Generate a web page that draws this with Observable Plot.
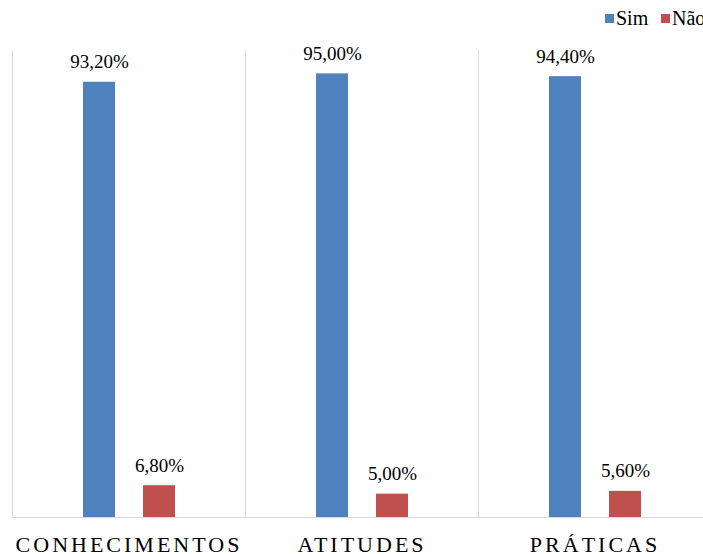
<!DOCTYPE html>
<html>
<head>
<meta charset="utf-8">
<script src="https://cdn.jsdelivr.net/npm/d3@7"></script>
<script src="https://cdn.jsdelivr.net/npm/@observablehq/plot@0.6"></script>
<style>
  html, body { margin: 0; padding: 0; background: #fff; overflow: hidden; width: 703px; height: 554px; }
  #wrap { width: 711px; font-family: "Liberation Serif", "Times New Roman", serif; }
  #legend { position: relative; height: 35px; font-size: 20px; color: #000; }
  .item { position: absolute; top: 7px; display: flex; align-items: center; white-space: nowrap; }
  .sw { width: 9px; height: 9px; margin-right: 2px; }
  svg [aria-label="fx-axis tick label"] text { letter-spacing: 3px; }
</style>
</head>
<body>
<div id="wrap">
  <div id="legend"></div>
  <div id="chart"></div>
</div>
<script>
const categories = ["CONHECIMENTOS", "ATITUDES", "PRÁTICAS"];
const series = ["Sim", "Não"];
const simValues = [93.2, 95.0, 94.4];
const naoValues = [6.8, 5.0, 5.6];
const colors = ["#4F81BD", "#C0504D"];

const data = [];
categories.forEach((c, i) => {
  data.push({category: c, series: "Sim", value: simValues[i]});
  data.push({category: c, series: "Não", value: naoValues[i]});
});

const fmt = v => v.toFixed(2).replace(".", ",") + "%";

// legend
const legend = document.getElementById("legend");
const legendLeft = [605, 661];
series.forEach((s, i) => {
  const it = document.createElement("div");
  it.className = "item";
  it.style.left = legendLeft[i] + "px";
  it.innerHTML = `<span class="sw" style="background:${colors[i]}"></span><span>${s}</span>`;
  legend.appendChild(it);
});

const chart = Plot.plot({
  width: 711,
  height: 519,
  marginTop: 15,
  marginBottom: 37,
  marginLeft: 12,
  marginRight: 0,
  style: {fontFamily: "'Liberation Serif', 'Times New Roman', serif", background: "#fff", color: "#000"},
  fx: {domain: categories, padding: 0, label: null, axis: null},
  x: {domain: series, paddingInner: 0.4667, paddingOuter: 1.175, axis: null},
  y: {domain: [0, 100], axis: null},
  color: {domain: series, range: colors},
  marks: [
    Plot.frame({anchor: "left", stroke: "#d9d9d9"}),
    Plot.frame({anchor: "right", stroke: "#d9d9d9"}),
    Plot.ruleY([0], {stroke: "#d9d9d9"}),
    Plot.barY(data, {fx: "category", x: "series", y: "value", fill: "series"}),
    Plot.text(data, {fx: "category", x: "series", y: "value", text: d => fmt(d.value), dy: -14, lineAnchor: "bottom", fontSize: 19, fill: "#000"}),
    Plot.axisFx({anchor: "bottom", tickSize: 0, tickPadding: 19, fontSize: 22, label: null})
  ]
});
document.getElementById("chart").appendChild(chart);
</script>
</body>
</html>
